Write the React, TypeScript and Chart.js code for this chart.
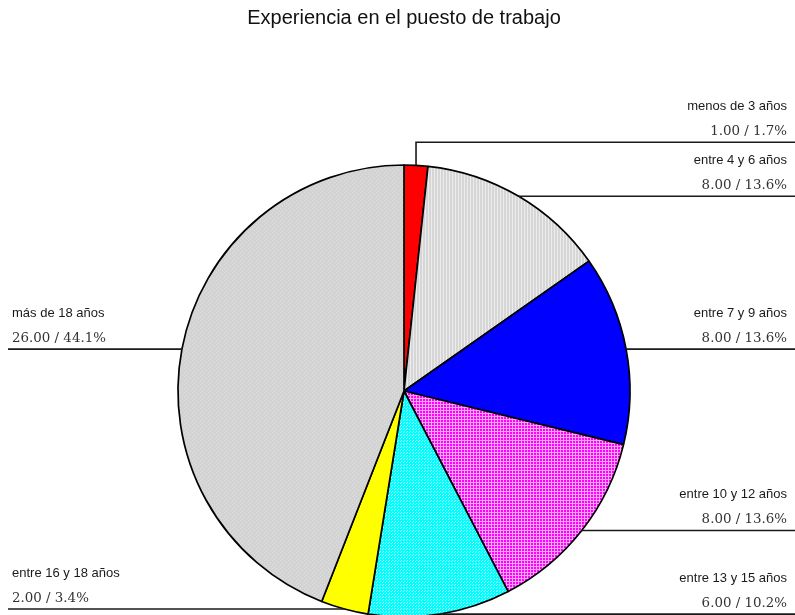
import React, { useEffect, useRef } from 'react';
import { Chart, registerables } from 'chart.js';

Chart.register(...registerables);

const titleText = 'Experiencia en el puesto de trabajo';
const categories = [
  'menos de 3 años',
  'entre 4 y 6 años',
  'entre 7 y 9 años',
  'entre 10 y 12 años',
  'entre 13 y 15 años',
  'entre 16 y 18 años',
  'más de 18 años',
];
const values = [1, 8, 8, 8, 6, 2, 26];

const LABEL_GAP = 54;

function makePattern(w: number, h: number, base: string, accent: string, pts: [number, number][]) {
  const c = document.createElement('canvas');
  c.width = w;
  c.height = h;
  const g = c.getContext('2d')!;
  g.fillStyle = base;
  g.fillRect(0, 0, w, h);
  g.fillStyle = accent;
  pts.forEach(([x, y]) => g.fillRect(x, y, 1, 1));
  return g.createPattern(c, 'repeat')!;
}

function buildColors() {
  const stripeGray = makePattern(3, 1, '#d6d6d6', '#ececec', [[0, 0]]);
  const gridMagenta = makePattern(3, 3, '#ff00ff', '#ffa8ff', [[0, 0], [1, 0], [2, 0], [0, 1], [0, 2]]);
  const dotCyan = makePattern(3, 3, '#00ffff', '#b0ffff', [[0, 0], [2, 1]]);
  const dotGray = makePattern(4, 4, '#d3d3d3', '#e0e0e0', [[0, 0], [2, 2]]);
  return ['#ff0000', stripeGray, '#0000ff', gridMagenta, dotCyan, '#ffff00', dotGray];
}

const leaderPlugin = {
  id: 'leaders',
  afterDatasetsDraw(chart: any) {
    const ctx = chart.ctx as CanvasRenderingContext2D;
    const meta = chart.getDatasetMeta(0);
    const data = chart.data.datasets[0].data as number[];
    const total = data.reduce((a, b) => a + b, 0);
    const W = chart.width;
    const items = meta.data.map((arc: any, i: number) => {
      const p = arc.getProps(['x', 'y', 'startAngle', 'endAngle', 'outerRadius'], true);
      const mid = (p.startAngle + p.endAngle) / 2;
      const px = p.x + Math.cos(mid) * p.outerRadius;
      const py = p.y + Math.sin(mid) * p.outerRadius;
      return { i, px, py, right: Math.cos(mid) >= 0, lineY: py };
    });
    [true, false].forEach((side) => {
      const list = items.filter((it: any) => it.right === side).sort((a: any, b: any) => b.py - a.py);
      for (let k = 1; k < list.length; k++) {
        list[k].lineY = Math.min(list[k].py, list[k - 1].lineY - LABEL_GAP);
      }
    });
    ctx.save();
    items.forEach((it: any) => {
      ctx.beginPath();
      ctx.strokeStyle = '#1a1a1a';
      ctx.lineWidth = 1.6;
      ctx.moveTo(it.px, it.py);
      if (Math.abs(it.lineY - it.py) > 0.5) ctx.lineTo(it.px, it.lineY);
      ctx.lineTo(it.right ? W + 10 : 0, it.lineY);
      ctx.stroke();

      const v = data[it.i];
      const pct = (v / total) * 100;
      const tx = it.right ? W - 8 : 4;
      ctx.textAlign = it.right ? 'right' : 'left';
      ctx.textBaseline = 'middle';
      ctx.fillStyle = '#1a1a1a';
      ctx.font = '13px "Liberation Sans", Arial, sans-serif';
      ctx.fillText(chart.data.labels[it.i], tx, it.lineY - 36);
      ctx.fillStyle = '#333333';
      ctx.font = '13.4px "DejaVu Serif", serif';
      ctx.fillText(`${v.toFixed(2)} / ${pct.toFixed(1)}%`, tx, it.lineY - 11);
    });
    ctx.restore();
  },
};

export default function App() {
  const ref = useRef<HTMLCanvasElement>(null);
  useEffect(() => {
    document.documentElement.style.overflow = 'hidden';
    const chart = new Chart(ref.current!, {
      type: 'pie',
      data: {
        labels: categories,
        datasets: [
          {
            data: values,
            backgroundColor: buildColors() as any,
            borderColor: '#000000',
            borderWidth: 1.7,
            radius: 226,
          } as any,
        ],
      },
      options: {
        responsive: false,
        animation: false,
        devicePixelRatio: 1,
        layout: { padding: { left: 5, right: 0, top: 0, bottom: 0 } },
        plugins: {
          legend: { display: false },
          tooltip: { enabled: false },
          title: {
            display: true,
            text: titleText,
            color: '#111111',
            font: { family: '"Liberation Sans", Arial, sans-serif', size: 20, weight: 'normal', lineHeight: 1 },
            padding: { top: 0, bottom: 0 },
          },
        },
      } as any,
      plugins: [leaderPlugin],
    });
    return () => chart.destroy();
  }, []);
  return (
    <div style={{ position: 'fixed', left: 8, top: 8, width: 787, height: 746 }}>
      <canvas ref={ref} width={787} height={746} style={{ width: 787, height: 746, display: 'block' }} />
    </div>
  );
}
